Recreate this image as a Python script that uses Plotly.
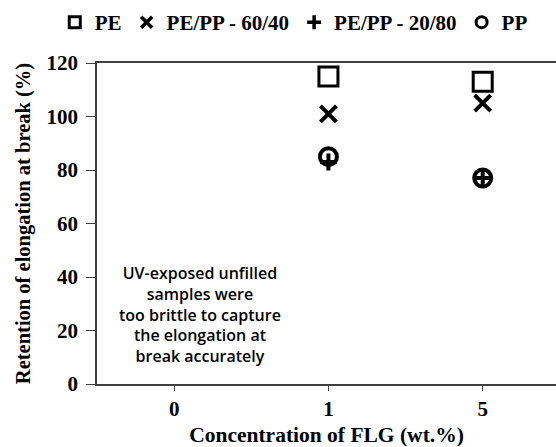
import plotly.graph_objects as go

# Concentration of FLG (wt.%) categories
categories = ["0", "1", "5"]

# Retention of elongation at break (%) per blend, measured at 1 and 5 wt.% FLG
x_filled = ["1", "5"]
pe = [115, 113]
pe_pp_6040 = [101, 105]
pe_pp_2080 = [83, 77]
pp = [85, 77]

note = ("UV-exposed unfilled<br>samples were<br>too brittle to capture<br>"
        "the elongation at<br>break accurately")

serif = "Liberation Serif"

fig = go.Figure()

# (name, values, symbol, plot size, plot line width, legend size, legend line width)
series = [
    ("PE", pe, "square-open", 19, 3, 11, 3),
    ("PE/PP - 60/40", pe_pp_6040, "x-thin", 16, 4, 11, 3.5),
    ("PE/PP - 20/80", pe_pp_2080, "cross-thin", 12, 4, 10, 3.5),
    ("PP", pp, "circle-open", 17, 4, 11, 3),
]
for name, vals, sym, size, lw, lsize, llw in series:
    fig.add_trace(go.Scatter(
        x=x_filled, y=vals, mode="markers", name=name, legendgroup=name,
        showlegend=False,
        marker=dict(symbol=sym, size=size, color="black",
                    line=dict(color="black", width=lw)),
    ))
    # compact legend swatch for the same series
    fig.add_trace(go.Scatter(
        x=[None], y=[None], mode="markers", name=name, legendgroup=name,
        marker=dict(symbol=sym, size=lsize, color="black",
                    line=dict(color="black", width=llw)),
    ))

fig.add_annotation(
    x=0.17, y=26, xref="x", yref="y", text=note, showarrow=False,
    align="center",
    font=dict(family="Open Sans", size=16, color="black", weight=600),
)

fig.update_layout(
    width=556, height=447,
    margin=dict(l=97, r=0, t=63, b=63, autoexpand=False),
    paper_bgcolor="white", plot_bgcolor="white",
    font=dict(family=serif, color="black"),
    showlegend=True,
    legend=dict(
        orientation="h", x=-0.092, xanchor="left", y=1.19, yref="paper",
        yanchor="top", itemsizing="trace",
        font=dict(family=serif, size=21, weight="bold", color="black"),
        itemwidth=30, tracegroupgap=0,
    ),
    xaxis=dict(
        type="category", categoryorder="array", categoryarray=categories,
        range=[-0.5, 2.475],
        showline=True, linecolor="#404040", linewidth=1.5, mirror=True,
        ticks="outside", ticklen=5, tickcolor="#404040",
        showgrid=False, zeroline=False,
        tickfont=dict(family=serif, size=21, weight="bold"),
        title=dict(text="Concentration of FLG (wt.%)", standoff=11,
                   font=dict(family=serif, size=21.5, weight="bold")),
    ),
    yaxis=dict(
        range=[0, 120], tickvals=[0, 20, 40, 60, 80, 100, 120],
        showline=True, linecolor="#404040", linewidth=1.5,
        ticks="outside", ticklen=9, tickcolor="#404040",
        ticklabelstandoff=4,
        showgrid=False, zeroline=False,
        tickfont=dict(family=serif, size=21, weight="bold"),
        title=dict(text="Retention of elongation at break (%)", standoff=10,
                   font=dict(family=serif, size=20.5, weight="bold")),
    ),
)

fig.write_html("out.html")
